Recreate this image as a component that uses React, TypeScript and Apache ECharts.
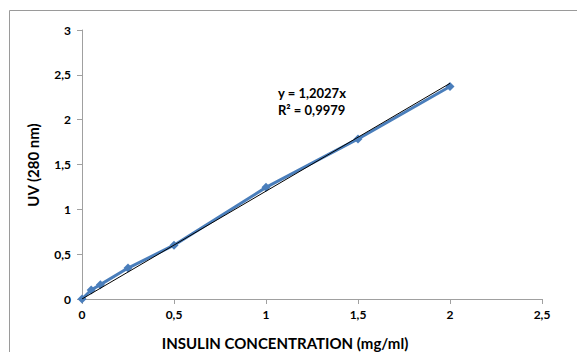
import React, { useEffect, useRef } from "react";
import * as echarts from "echarts";

const concentrations = [0, 0.05, 0.1, 0.25, 0.5, 1, 1.5, 2];
const uvValues = [0, 0.1, 0.16, 0.345, 0.6, 1.245, 1.785, 2.37];
const slope = 1.2027;
const rSquared = 0.9979;
const xTicks = [0, 0.5, 1, 1.5, 2, 2.5];
const yTicks = [0, 0.5, 1, 1.5, 2, 2.5, 3];

const fmt = (v: number) => String(v).replace(".", ",");

export default function App() {
  const ref = useRef<HTMLDivElement>(null);
  useEffect(() => {
    if (!ref.current) return;
    const chart = echarts.init(ref.current, null, { renderer: "svg" });
    const font = "Lato, 'Open Sans', sans-serif";
    const measured = concentrations.map((c, i) => [c, uvValues[i]]);
    const trendEnd = concentrations[concentrations.length - 1];
    chart.setOption({
      animation: false,
      backgroundColor: "#ffffff",
      grid: { left: 82, top: 30, right: 35, bottom: 53 },
      xAxis: {
        type: "value",
        min: xTicks[0],
        max: xTicks[xTicks.length - 1],
        interval: 0.5,
        splitLine: { show: false },
        axisLine: { show: true, lineStyle: { color: "#a0a0a0", width: 1 } },
        axisTick: { show: true, length: 5, lineStyle: { color: "#a0a0a0" } },
        axisLabel: {
          margin: 9,
          color: "#000",
          fontFamily: font,
          fontWeight: "bold",
          fontSize: 12,
          formatter: (v: number) => fmt(v),
        },
      },
      yAxis: {
        type: "value",
        min: yTicks[0],
        max: yTicks[yTicks.length - 1],
        interval: 0.5,
        splitLine: { show: false },
        axisLine: { show: true, lineStyle: { color: "#a0a0a0", width: 1 } },
        axisTick: { show: true, length: 5, lineStyle: { color: "#a0a0a0" } },
        axisLabel: {
          margin: 11,
          color: "#000",
          fontFamily: font,
          fontWeight: "bold",
          fontSize: 12,
          formatter: (v: number) => fmt(v),
        },
      },
      series: [
        {
          type: "line",
          data: measured,
          symbol: "diamond",
          symbolSize: 9,
          itemStyle: { color: "#4a7ebb" },
          lineStyle: { color: "#4a7ebb", width: 3 },
          z: 2,
        },
        {
          type: "line",
          data: [
            [0, 0],
            [trendEnd, slope * trendEnd],
          ],
          symbol: "none",
          lineStyle: { color: "#000", width: 1 },
          z: 3,
        },
      ],
      graphic: [
        {
          type: "rect",
          shape: { x: 9.5, y: 10.5, width: 600, height: 400 },
          style: { fill: "none", stroke: "#9a9a9a", lineWidth: 1 },
          z: 10,
        },
        {
          type: "text",
          left: 278,
          top: 86,
          style: {
            text: "y = " + fmt(slope) + "x",
            font: "bold 13px " + font,
            fill: "#000",
          },
        },
        {
          type: "text",
          left: 278,
          top: 103,
          style: {
            text: "R² = " + fmt(rSquared),
            font: "bold 13px " + font,
            fill: "#000",
          },
        },
        {
          type: "text",
          x: 285,
          y: 343,
          style: {
            text: "INSULIN CONCENTRATION (mg/ml)",
            font: "bold 15px " + font,
            fill: "#000",
            align: "center",
            verticalAlign: "middle",
          },
        },
        {
          type: "text",
          x: 33,
          y: 165,
          rotation: Math.PI / 2,
          style: {
            text: "UV (280 nm)",
            font: "bold 15px " + font,
            fill: "#000",
            align: "center",
            verticalAlign: "middle",
          },
        },
      ],
    });
    return () => chart.dispose();
  }, []);
  return <div ref={ref} style={{ width: 577, height: 352, position: "absolute", left: 0, top: 0 }} />;
}
